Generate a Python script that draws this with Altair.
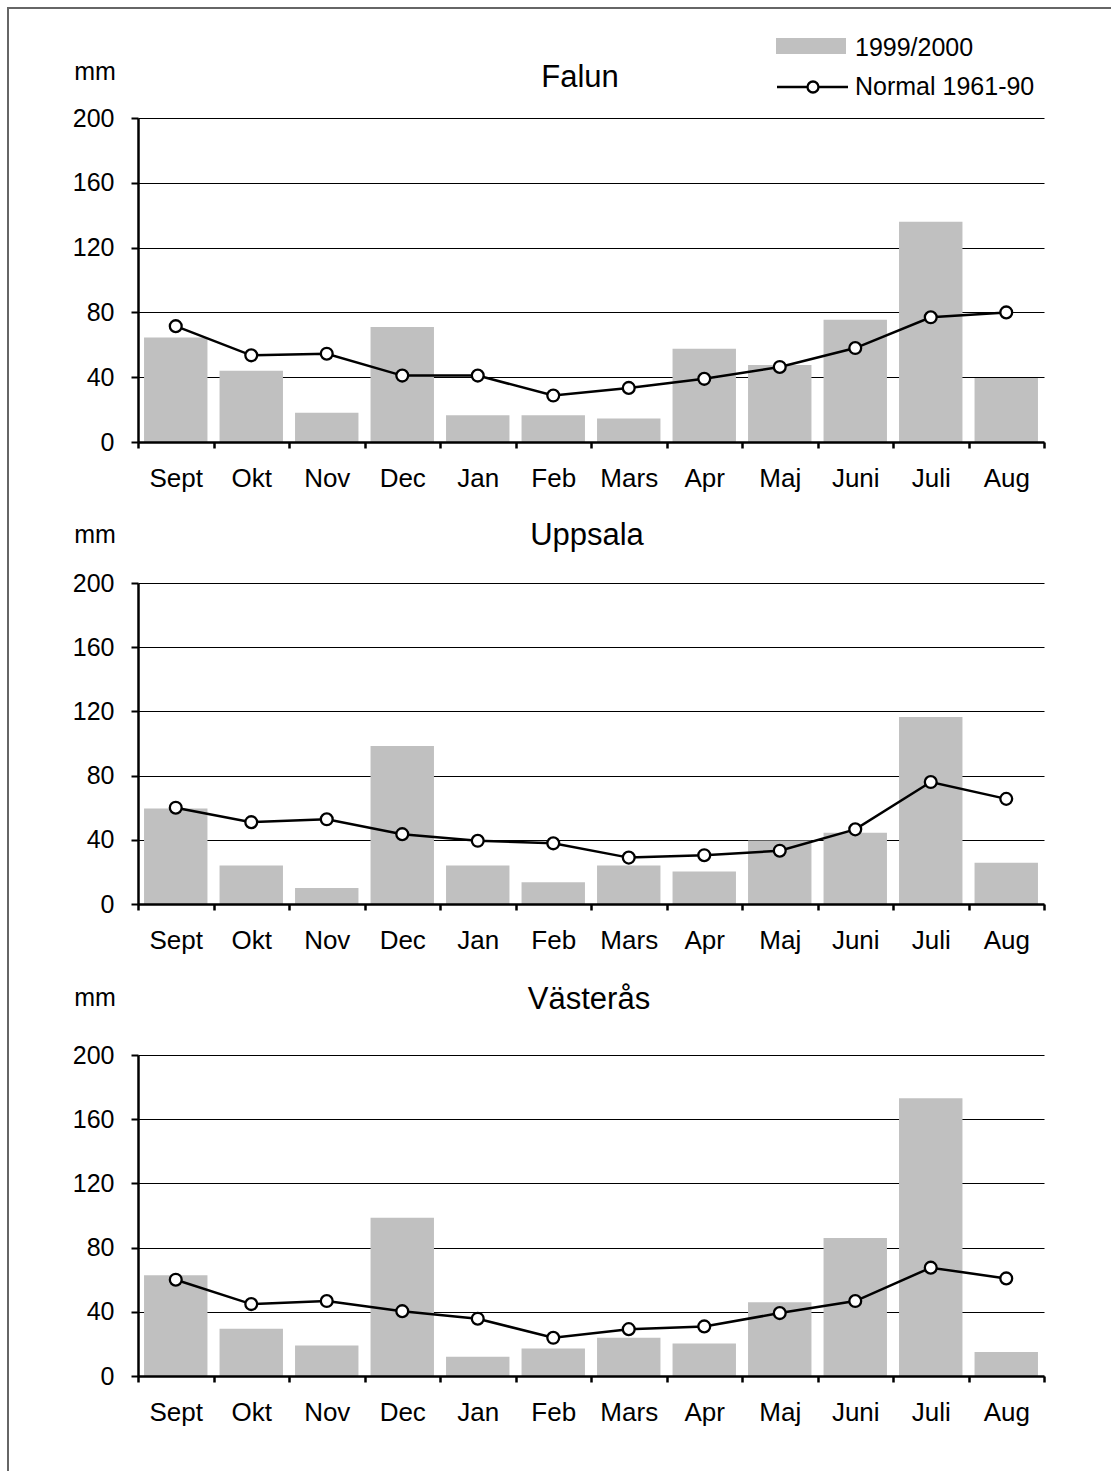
import altair as alt
import pandas as pd

FONT = "Liberation Sans"

MONTHS = ["Sept", "Okt", "Nov", "Dec", "Jan", "Feb", "Mars", "Apr", "Maj", "Juni", "Juli", "Aug"]
STATIONS = ["Falun", "Uppsala", "Västerås"]
LEGEND_LABELS = ["1999/2000", "Normal 1961-90"]
Y_TICKS = [0, 40, 80, 120, 160, 200]
UNIT = "mm"

# monthly precipitation (mm), season 1999/2000 and the 1961-90 normal
FALUN_1999 = [64.5, 44, 18, 71, 16.5, 16.5, 14.5, 57.5, 47.5, 75.5, 136, 39.5]
FALUN_NORMAL = [71.5, 53.5, 54.5, 41, 41, 28.7, 33.4, 39, 46.3, 58, 77, 80]
UPPSALA_1999 = [59.5, 24, 10, 98.5, 24, 13.5, 24, 20.3, 39.6, 44.4, 116.5, 25.7]
UPPSALA_NORMAL = [60, 51, 52.8, 43.5, 39.4, 37.8, 28.9, 30.4, 33.2, 46.5, 76, 65.5]
VASTERAS_1999 = [62.7, 29.4, 19, 98.6, 12, 17.2, 23.8, 20.3, 46, 86, 173, 15]
VASTERAS_NORMAL = [60, 44.8, 46.7, 40.4, 35.7, 23.8, 29.2, 30.9, 39.2, 46.7, 67.5, 60.8]

BAR_COLOR = "#c0c0c0"
WIDTH = 906


def panel(name, obs, normal, height, y_range, title_x, title_y, unit_y, extras=()):
    df = pd.DataFrame({"month": MONTHS, "obs": obs, "normal": normal})
    x_axis = alt.Axis(
        tickBand="extent", labelAngle=0, labelFontSize=26, labelPadding=17,
        labelColor="black", labelFont=FONT, domainColor="black", domainWidth=2.5,
        tickColor="black", tickWidth=2.5, tickSize=6, zindex=1, title=None,
        grid=False,
    )
    x = alt.X("month:N", sort=MONTHS, title=None,
              scale=alt.Scale(paddingInner=0, paddingOuter=0), axis=x_axis)
    scale_args = dict(domain=[0, 200], nice=False, zero=True)
    if y_range is not None:
        scale_args["range"] = y_range
    y_scale = alt.Scale(**scale_args)
    y_axis = alt.Axis(
        values=Y_TICKS, grid=True, gridColor="black", gridWidth=1,
        domainColor="black", domainWidth=2.5, tickColor="black", tickWidth=2,
        tickSize=7, labelFontSize=25, labelPadding=17, labelColor="black",
        labelFont=FONT, title=None,
    )
    base = alt.Chart(df)
    bars = base.mark_bar(color=BAR_COLOR, width=alt.RelativeBandSize(0.84)).encode(
        x=x, y=alt.Y("obs:Q", scale=y_scale, axis=y_axis, title=None)
    )
    line = base.mark_line(color="black", strokeWidth=2.5).encode(
        x=x, y=alt.Y("normal:Q", scale=y_scale, axis=y_axis, title=None)
    )
    dots = base.mark_point(shape="circle", filled=True, fill="white", stroke="black",
                           strokeWidth=2.3, size=140, opacity=1).encode(
        x=x, y=alt.Y("normal:Q", scale=y_scale, axis=y_axis, title=None)
    )
    label_df = pd.DataFrame({"station": [name], "unit": [UNIT]})
    title = alt.Chart(label_df).mark_text(
        font=FONT, fontSize=31, color="black", align="center", baseline="alphabetic"
    ).encode(x=alt.value(title_x), y=alt.value(title_y), text="station:N")
    unit = alt.Chart(label_df).mark_text(
        font=FONT, fontSize=25, color="black", align="center", baseline="middle"
    ).encode(x=alt.value(-43), y=alt.value(unit_y), text="unit:N")
    return alt.layer(bars, line, dots, title, unit, *extras).properties(
        width=WIDTH, height=height,
        view=alt.ViewBackground(stroke=None, strokeWidth=0),
    )


one = pd.DataFrame({"k": [0]})

# legend drawn in the top right corner of the first panel
legend = [
    alt.Chart(one).mark_rect(color=BAR_COLOR).encode(
        x=alt.value(638), x2=alt.value(708), y=alt.value(-80), y2=alt.value(-64)),
    alt.Chart(one).mark_text(font=FONT, fontSize=25, align="left", baseline="middle",
                             color="black").encode(
        x=alt.value(717), y=alt.value(-70), text=alt.value(LEGEND_LABELS[0])),
    alt.Chart(one).mark_rule(color="black", strokeWidth=2.5).encode(
        x=alt.value(639), x2=alt.value(710), y=alt.value(-31)),
    alt.Chart(one).mark_point(shape="circle", filled=True, fill="white", stroke="black",
                              strokeWidth=2.3, size=120, opacity=1).encode(
        x=alt.value(675), y=alt.value(-31)),
    alt.Chart(one).mark_text(font=FONT, fontSize=25, align="left", baseline="middle",
                             color="black").encode(
        x=alt.value(717), y=alt.value(-31), text=alt.value(LEGEND_LABELS[1])),
]

# thin frame along the top and left edge of the page
frame = [
    alt.Chart(one).mark_rule(color="#666666", strokeWidth=2, strokeCap="square").encode(
        x=alt.value(-130), y=alt.value(-110), y2=alt.value(1352)),
    alt.Chart(one).mark_rule(color="#666666", strokeWidth=2, strokeCap="square").encode(
        y=alt.value(-110), x=alt.value(-130), x2=alt.value(972)),
]

p1 = panel(STATIONS[0], FALUN_1999, FALUN_NORMAL, 324, None, 442, -31, -46,
           extras=legend + frame)
p2 = panel(STATIONS[1], UPPSALA_1999, UPPSALA_NORMAL, 321, None, 449, -38, -48)
p3 = panel(STATIONS[2], VASTERAS_1999, VASTERAS_NORMAL, 331, [331, 10], 451, -36, -47)

chart = alt.vconcat(p1, p2, p3, spacing=141, bounds="flush").properties(
    padding={"left": 6, "top": 6, "right": 0, "bottom": 0}
).configure_view(stroke=None, strokeWidth=0).configure(background="white")

chart.save("out.html", embed_options={"renderer": "svg", "actions": False})
